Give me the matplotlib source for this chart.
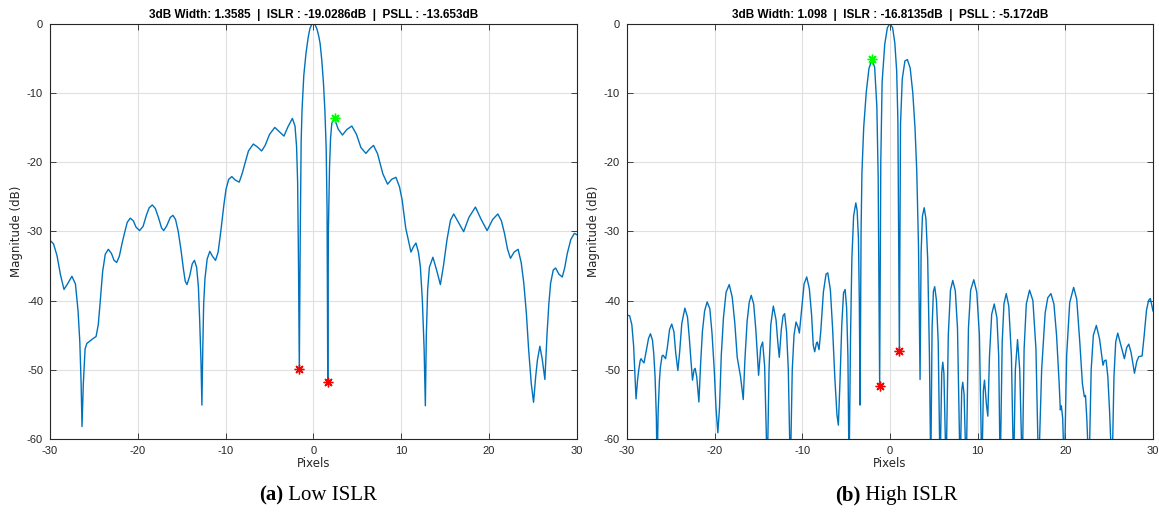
import numpy as np
import matplotlib
matplotlib.use('Agg')
import matplotlib.pyplot as plt

plt.rcParams['axes.unicode_minus'] = False

# ---- panel (a): low ISLR ----
low_x = [-30.0, -29.6, -29.2, -28.8, -28.4, -28.0, -27.5, -27.1, -26.8, -26.6, -26.45, -26.35, -26.2, -26.0,
         -25.8, -25.5, -25.1, -24.75, -24.5, -24.3, -24.0, -23.7, -23.35, -23.0, -22.7, -22.4, -22.1, -21.8,
         -21.5, -21.2, -20.85, -20.5, -20.2, -19.8, -19.4, -19.0, -18.7, -18.35, -18.0, -17.6, -17.3, -17.05,
         -16.7, -16.3, -16.0, -15.7, -15.4, -15.1, -14.8, -14.6, -14.4, -14.1, -13.8, -13.55, -13.3, -13.1,
         -12.95, -12.8, -12.7, -12.6, -12.5, -12.35, -12.1, -11.8, -11.5, -11.15, -10.85, -10.5, -10.2, -9.95,
         -9.65, -9.3, -8.9, -8.45, -8.1, -7.8, -7.4, -6.85, -6.4, -5.9, -5.5, -5.0, -4.4, -3.9, -3.36, -2.9,
         -2.4, -2.1, -1.92, -1.8, -1.7, -1.61, -1.5, -1.4, -1.3, -1.1, -0.85, -0.6, -0.4, -0.2, 0.0, 0.2, 0.4,
         0.6, 0.76, 0.95, 1.14, 1.3, 1.45, 1.55, 1.63, 1.7, 1.83, 1.95, 2.09, 2.4, 2.8, 3.3, 3.8, 4.37, 4.9,
         5.4, 5.97, 6.4, 6.84, 7.3, 7.9, 8.44, 8.9, 9.39, 9.8, 10.1, 10.5, 11.1, 11.4, 11.67, 11.95, 12.17,
         12.4, 12.6, 12.74, 12.85, 13.0, 13.2, 13.6, 14.0, 14.45, 14.8, 15.2, 15.6, 15.97, 16.5, 17.1, 17.7,
         18.44, 19.1, 19.77, 20.4, 20.99, 21.4, 21.75, 22.1, 22.43, 22.85, 23.3, 23.65, 23.95, 24.25, 24.5,
         24.8, 25.06, 25.3, 25.5, 25.78, 26.05, 26.35, 26.5, 26.6, 26.8, 27.0, 27.3, 27.57, 27.95, 28.33,
         28.6, 28.9, 29.3, 29.7, 30.0]
low_db = [-31.3, -31.8, -33.5, -36.3, -38.4, -37.6, -36.5, -37.6, -41.5, -46.0, -52.0, -58.2, -52.0, -47.0,
          -46.2, -45.9, -45.5, -45.2, -43.5, -40.5, -35.8, -33.3, -32.6, -33.2, -34.2, -34.5, -33.6, -31.8,
          -30.2, -28.7, -28.1, -28.5, -29.4, -29.9, -29.3, -27.6, -26.6, -26.2, -26.7, -28.2, -29.5, -29.9,
          -29.2, -28.0, -27.7, -28.3, -30.0, -32.5, -35.5, -37.2, -37.7, -36.5, -34.7, -34.2, -35.2, -38.0,
          -43.0, -49.0, -55.1, -47.0, -40.5, -36.8, -34.0, -32.9, -33.6, -34.2, -33.0, -29.5, -26.2, -23.9,
          -22.5, -22.1, -22.6, -22.9, -21.6, -20.2, -18.4, -17.4, -17.8, -18.4, -17.6, -16.0, -15.0, -15.6,
          -16.25, -14.9, -13.7, -14.8, -17.8, -23.0, -35.0, -49.95, -30.0, -17.0, -12.5, -7.5, -4.3, -2.0,
          -0.7, -0.15, 0.0, -0.2, -0.8, -1.8, -2.9, -5.3, -8.6, -12.5, -18.0, -27.0, -51.7, -30.0, -20.7,
          -16.5, -14.4, -13.7, -15.2, -16.1, -15.3, -14.8, -16.0, -17.9, -18.75, -18.1, -17.6, -18.8, -21.7,
          -23.2, -22.5, -22.2, -23.6, -25.5, -29.5, -33.0, -32.2, -31.7, -33.0, -35.1, -40.0, -47.0, -55.2,
          -45.0, -38.5, -35.2, -33.75, -35.5, -37.7, -35.0, -31.25, -28.4, -27.5, -28.7, -30.05, -28.0, -26.5,
          -28.3, -29.9, -28.3, -27.5, -28.5, -30.3, -32.6, -33.9, -33.0, -32.6, -34.5, -37.5, -42.0, -47.1,
          -52.0, -54.7, -51.0, -48.6, -46.6, -48.5, -51.4, -47.5, -44.7, -40.5, -37.5, -35.6, -35.3, -36.2,
          -36.6, -35.3, -33.2, -31.2, -30.3, -30.5]
low_null_x = [-1.61, 1.63]
low_null_db = [-49.95, -51.7]
low_psl_x, low_psl_db = 2.4, -13.65
low_title = '3dB Width: 1.3585  |  ISLR : -19.0286dB  |  PSLL : -13.653dB'

# ---- panel (b): high ISLR ----
high_x = [-30.0, -29.7, -29.45, -29.25, -29.1, -28.97, -28.8, -28.67, -28.5, -28.4, -28.2, -28.06, -27.8,
          -27.55, -27.33, -27.1, -26.95, -26.8, -26.65, -26.57, -26.45, -26.3, -26.19, -26.0, -25.89, -25.6,
          -25.4, -25.15, -24.9, -24.65, -24.45, -24.2, -24.0, -23.75, -23.4, -23.1, -22.9, -22.7, -22.53,
          -22.35, -22.23, -22.05, -21.8, -21.6, -21.4, -21.15, -20.86, -20.55, -20.3, -20.05, -19.85, -19.64,
          -19.45, -19.25, -19.0, -18.7, -18.34, -18.0, -17.7, -17.43, -17.05, -16.74, -16.55, -16.3, -16.05,
          -15.83, -15.55, -15.3, -14.99, -14.75, -14.53, -14.3, -14.0, -13.8, -13.6, -13.31, -13.0, -12.8,
          -12.63, -12.4, -12.2, -12.02, -11.8, -11.6, -11.37, -11.15, -10.95, -10.72, -10.5, -10.34, -10.1,
          -9.8, -9.5, -9.2, -8.95, -8.75, -8.59, -8.4, -8.29, -8.1, -7.9, -7.6, -7.3, -7.1, -6.8, -6.55, -6.3,
          -6.05, -5.89, -5.7, -5.5, -5.3, -5.12, -4.95, -4.8, -4.67, -4.5, -4.35, -4.15, -3.9, -3.75, -3.6,
          -3.5, -3.41, -3.3, -3.2, -3.0, -2.7, -2.4, -2.06, -1.75, -1.5, -1.35, -1.18, -1.05, -0.9, -0.6, -0.3,
          0.0, 0.3, 0.55, 0.76, 0.9, 1.07, 1.2, 1.4, 1.7, 1.98, 2.3, 2.6, 2.85, 3.05, 3.25, 3.43, 3.55, 3.7,
          3.9, 4.1, 4.3, 4.5, 4.65, 4.8, 4.95, 5.1, 5.3, 5.5, 5.71, 5.9, 6.02, 6.15, 6.4, 6.65, 6.9, 7.16,
          7.45, 7.7, 8.0, 8.18, 8.3, 8.45, 8.69, 8.95, 9.2, 9.56, 9.9, 10.2, 10.48, 10.65, 10.78, 11.0, 11.16,
          11.35, 11.6, 11.89, 12.2, 12.4, 12.57, 12.8, 13.0, 13.26, 13.55, 13.85, 14.1, 14.3, 14.55, 14.8,
          15.09, 15.3, 15.55, 15.92, 16.3, 16.65, 16.95, 17.3, 17.7, 18.0, 18.36, 18.7, 19.0, 19.3, 19.43,
          19.55, 19.7, 19.89, 20.15, 20.5, 20.95, 21.3, 21.65, 21.95, 22.17, 22.3, 22.45, 22.7, 22.95, 23.2,
          23.54, 23.9, 24.3, 24.45, 24.65, 24.85, 25.05, 25.33, 25.55, 25.75, 25.98, 26.35, 26.74, 27.0,
          27.24, 27.5, 27.89, 28.15, 28.38, 28.76, 29.0, 29.26, 29.5, 29.7, 30.0]
high_db = [-42.1, -42.2, -43.5, -46.5, -50.5, -54.2, -51.5, -50.1, -48.7, -48.4, -48.8, -49.0, -47.2, -45.5,
           -44.8, -45.7, -47.7, -51.0, -57.0, -65.0, -56.0, -51.5, -49.6, -48.0, -47.9, -48.4, -46.8, -44.2,
           -43.4, -44.5, -47.5, -50.1, -47.5, -43.3, -41.1, -42.4, -45.3, -48.8, -51.5, -50.0, -49.8, -51.0,
           -54.65, -49.0, -44.5, -41.5, -40.2, -41.2, -44.8, -50.0, -55.5, -59.1, -55.5, -48.0, -42.5, -38.8,
           -37.7, -39.5, -43.3, -48.2, -51.0, -54.3, -48.5, -43.0, -40.2, -39.25, -40.5, -44.3, -50.8, -46.8,
           -46.0, -49.5, -65.0, -50.0, -43.5, -40.8, -42.8, -46.0, -48.2, -44.2, -42.2, -41.9, -44.5, -50.0,
           -65.0, -50.0, -45.0, -43.1, -43.8, -44.7, -41.5, -37.6, -36.6, -38.3, -42.0, -46.5, -47.4, -46.2,
           -46.0, -47.1, -44.5, -38.8, -36.2, -36.0, -38.5, -44.0, -51.0, -56.5, -58.0, -51.5, -43.5, -38.9,
           -38.4, -41.0, -48.0, -65.0, -45.0, -34.0, -27.8, -25.9, -27.0, -31.0, -40.0, -55.1, -30.0, -21.5,
           -15.0, -9.8, -6.5, -5.2, -6.3, -12.0, -22.0, -52.3, -20.0, -8.5, -3.0, -0.6, 0.0, -0.6, -2.8, -6.8,
           -14.0, -47.3, -14.5, -8.0, -5.4, -5.2, -6.4, -10.0, -15.0, -21.2, -32.0, -51.4, -33.0, -27.8, -26.6,
           -28.2, -34.0, -48.0, -65.0, -44.0, -38.7, -38.0, -40.0, -46.0, -65.0, -50.5, -48.9, -50.5, -65.0,
           -45.0, -38.5, -37.1, -38.6, -44.0, -65.0, -53.0, -51.8, -53.5, -65.0, -44.0, -38.5, -37.0, -38.8,
           -45.0, -65.0, -53.0, -51.5, -55.0, -56.7, -48.0, -42.0, -40.5, -42.5, -48.0, -65.0, -46.0, -40.5,
           -39.0, -40.8, -48.0, -65.0, -50.0, -45.65, -50.0, -65.0, -47.0, -40.5, -38.5, -40.0, -47.0, -65.0,
           -50.0, -41.8, -39.6, -39.0, -40.5, -45.0, -52.0, -55.8, -55.2, -57.0, -65.0, -48.0, -40.3, -38.1,
           -39.8, -46.0, -52.0, -53.9, -53.7, -57.0, -65.0, -50.0, -45.0, -43.6, -45.5, -49.35, -48.7, -48.6,
           -51.0, -56.0, -65.0, -51.0, -46.0, -44.7, -46.5, -48.4, -46.8, -46.3, -47.5, -50.5, -48.8, -48.1,
           -48.0, -45.0, -41.4, -40.0, -39.7, -41.5]
high_null_x = [-1.18, 1.07]
high_null_db = [-52.3, -47.3]
high_psl_x, high_psl_db = -2.06, -5.172
high_title = '3dB Width: 1.098  |  ISLR : -16.8135dB  |  PSLL : -5.172dB'

fig = plt.figure(figsize=(11.59, 5.18), dpi=100)
ax1 = fig.add_axes([0.0431, 0.1525, 0.4547, 0.802])
ax2 = fig.add_axes([0.541, 0.1525, 0.4538, 0.802])

panels = [
    (ax1, low_x, low_db, low_null_x, low_null_db, low_psl_x, low_psl_db, low_title, '(a)', ' Low ISLR'),
    (ax2, high_x, high_db, high_null_x, high_null_db, high_psl_x, high_psl_db, high_title, '(b)', ' High ISLR'),
]

# MATLAB-like asterisk marker
star = (8, 2, 0)

for ax, xs, ys, nx, ny, px, py, title, tag, caption in panels:
    ax.plot(xs, ys, color='#0072BD', lw=1.0)
    ax.plot(nx, ny, ls='none', marker=star, color='red', ms=7, mew=1.0)
    ax.plot([px], [py], ls='none', marker=star, color='#00FF00', ms=7, mew=1.0)
    ax.set_xlim(-30, 30)
    ax.set_ylim(-60, 0)
    ax.set_xticks(range(-30, 31, 10))
    ax.set_yticks(range(-60, 1, 10))
    ax.grid(True, color='#e0e0e0', lw=0.8)
    ax.set_axisbelow(True)
    ax.tick_params(direction='in', top=True, right=True, length=4, width=0.6,
                   labelsize=8, colors='#262626', pad=5)
    for s in ax.spines.values():
        s.set_linewidth(0.8)
        s.set_color('#262626')
    ax.set_title(title, fontsize=8.5, fontweight='bold', pad=4, family='Liberation Sans')
    ax.set_xlabel('Pixels', fontsize=8.5, labelpad=1, color='#262626')
    ax.set_ylabel('Magnitude (dB)', fontsize=8.5, labelpad=3, color='#262626')
    # caption: bold tag + plain text, centred as a whole under the axes
    ax.text(0.443, -0.135, tag, transform=ax.transAxes, fontsize=15, fontweight='bold',
            family='Liberation Serif', ha='right', va='center')
    ax.text(0.443, -0.135, caption, transform=ax.transAxes, fontsize=15,
            family='Liberation Serif', ha='left', va='center')

for ax in (ax1, ax2):
    for lbl in ax.get_xticklabels() + ax.get_yticklabels():
        lbl.set_family('Liberation Sans')

fig.savefig('out.png', dpi=100)
